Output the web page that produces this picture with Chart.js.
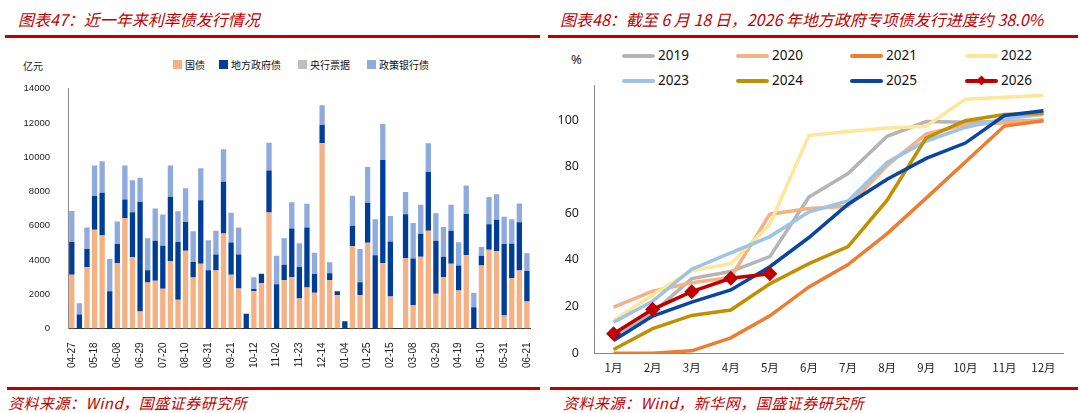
<!DOCTYPE html>
<html>
<head>
<meta charset="utf-8">
<script src="https://cdn.jsdelivr.net/npm/chart.js@4.4.1/dist/chart.umd.min.js"></script>
<style>
  body { margin:0; width:1080px; height:413px; background:#fff; position:relative; overflow:hidden;
         font-family:"Noto Sans CJK SC","Noto Sans",sans-serif; }
  .title { position:absolute; top:7px; font-size:16px; color:#C00000; font-style:italic; white-space:nowrap; }
  .rule  { position:absolute; height:3px; background:#C00000; }
  .src   { position:absolute; top:392px; font-size:15px; color:#C00000; font-style:italic; white-space:nowrap; letter-spacing:0.5px; }
  .unit  { position:absolute; font-size:10px; color:#222; }
  .box   { position:absolute; }
  .lg    { position:absolute; white-space:nowrap; color:#111; }
</style>
</head>
<body>
<div class="title" style="left:18px">图表47：近一年来利率债发行情况</div>
<div class="title" style="left:560px">图表48：截至 6 月 18 日，2026 年地方政府专项债发行进度约 38.0%</div>
<div class="rule" style="left:5px;width:535px;top:35px"></div>
<div class="rule" style="left:548px;width:530px;top:35px"></div>
<div class="rule" style="left:7px;width:533px;top:387px"></div>
<div class="rule" style="left:550px;width:528px;top:387px"></div>
<div class="src" style="left:8px">资料来源：Wind，国盛证券研究所</div>
<div class="src" style="left:563px">资料来源：Wind，新华网，国盛证券研究所</div>
<div class="unit" style="left:23px;top:58px">亿元</div>
<div class="unit" style="left:571px;top:50px;font-size:13px;font-family:'Noto Sans',sans-serif">%</div>

<div id="leftLegend"></div>
<div id="rightLegend"></div>
<canvas id="leftChart" width="545" height="307" style="position:absolute;left:0;top:73px"></canvas>
<canvas id="rightChart" width="535" height="325" style="position:absolute;left:545px;top:58px"></canvas>

<script>
// ─── 左图：近一年来利率债发行（亿元，周度） ───────────────────────────────
const weeks = [
  '04-27','05-04','05-11','05-18','05-25','06-01','06-08','06-15','06-22','06-29',
  '07-06','07-13','07-20','07-27','08-03','08-10','08-17','08-24','08-31','09-07',
  '09-14','09-21','09-28','10-05','10-12','10-19','10-26','11-02','11-09','11-16',
  '11-23','11-30','12-07','12-14','12-21','12-28','01-04','01-11','01-18','01-25',
  '02-01','02-08','02-15','02-22','03-01','03-08','03-15','03-22','03-29','04-05',
  '04-12','04-19','04-26','05-03','05-10','05-17','05-24','05-31','06-07','06-14','06-21'
];
const govBond = [
  3140,0,3570,5760,5430,0,3820,6440,4170,990,
  2680,2790,2310,3940,1670,4540,2970,3780,0,3380,
  5550,3140,2330,0,2170,2640,6770,0,2810,2990,
  1750,2390,2090,10810,2830,1940,0,4810,1940,5010,
  0,3820,1860,0,4110,1360,4190,5710,2020,2990,
  3780,2210,4270,0,3670,4600,4500,760,2950,3380,1570
];
const localBond = [
  1900,810,1070,1980,2500,2170,1110,1090,2620,6390,
  720,2330,2520,3750,3380,1670,910,3710,3400,930,
  3010,1880,1980,850,130,560,2450,2580,910,2850,
  1830,3510,1090,1070,390,230,420,1190,760,2330,
  4270,6020,3220,0,2560,2720,1340,3420,3100,1200,
  1920,1460,2410,1240,580,1490,1850,4170,2000,2820,1790
];
const cbBills = weeks.map(() => 0);
const policyBank = [
  1820,660,1260,1770,1840,1880,1320,1980,1860,1420,
  1860,1880,1830,1820,1790,1980,1790,1860,1750,1400,
  1900,1730,1590,0,690,0,1630,1670,1550,1530,
  1400,1380,1240,1160,640,0,0,1750,1940,2090,
  2100,2100,1490,0,1300,2080,1690,1690,1610,1740,
  1520,1360,1670,850,500,1590,1490,1590,1420,1090,1030
];
const leftYTicks = [0, 2000, 4000, 6000, 8000, 10000, 12000, 14000];

// ─── 右图：地方政府专项债累计发行进度（%） ──────────────────────────────
const months = ['1月','2月','3月','4月','5月','6月','7月','8月','9月','10月','11月','12月'];
const p2019 = [7.5, 17.3, 32, 35, 41.4, 67, 77, 93, 99.3, 99, 99.3, 100];
const p2020 = [19.8, 26.6, 30.2, 32.5, 59.6, 62, 63, 80.5, 94, 98, 98.8, 100];
const p2021 = [0, 0, 1, 6.6, 16, 28.4, 38, 51.3, 66.5, 82, 97.4, 99.7];
const p2022 = [14, 25, 35.5, 38.4, 55.3, 93.3, 95.1, 96.6, 97.3, 108.9, 109.7, 110.6];
const p2023 = [13.3, 22.3, 36, 43, 50, 60.6, 65.3, 81.8, 91, 96.8, 100.5, 102.5];
const p2024 = [1.6, 10.5, 16.2, 18.5, 29.8, 38.4, 45.7, 65.6, 92.3, 99.7, 102.3, 102.9];
const p2025 = [5.4, 15.9, 21.9, 27.1, 37.1, 49.6, 63.9, 74.6, 83.5, 90.1, 101.9, 104];
const p2026 = [8.3, 18.8, 26.4, 32.1, 34.1];
const rightYTicks = [0, 20, 40, 60, 80, 100];

const AXIS_FONT = "'Liberation Sans', Arial, sans-serif";

// ─── 左图 ────────────────────────────────────────────────────────────────
const leftChart = new Chart(document.getElementById('leftChart'), {
  type: 'bar',
  data: {
    labels: weeks,
    datasets: [
      { label: '国债',       data: govBond,    backgroundColor: '#F4B183' },
      { label: '地方政府债', data: localBond,  backgroundColor: '#003D97' },
      { label: '央行票据',   data: cbBills,    backgroundColor: '#BFBFBF' },
      { label: '政策银行债', data: policyBank, backgroundColor: '#8FAADC' },
    ],
  },
  options: {
    responsive: false,
    animation: false,
    layout: { padding: { left: 0, right: 10, top: 4, bottom: 6 } },
    plugins: { legend: { display: false }, tooltip: { enabled: false } },
    datasets: { bar: { categoryPercentage: 1, barPercentage: 0.7 } },
    scales: {
      x: {
        stacked: true,
        grid: { display: false },
        border: { color: '#333', width: 1 },
        ticks: {
          autoSkip: false, minRotation: 90, maxRotation: 90, padding: 6,
          color: '#222', font: { family: AXIS_FONT, size: 10 },
          callback: (v, i) => (i % 3 === 0 ? weeks[i] : ''),
        },
      },
      y: {
        stacked: true,
        min: 0, max: 14000,
        grid: { display: false },
        border: { color: '#888', width: 1 },
        afterBuildTicks: s => { s.ticks = leftYTicks.map(v => ({ value: v })); },
        afterFit: s => { s.width = 68; },
        ticks: {
          padding: 10, color: '#222', font: { family: AXIS_FONT, size: 9.5 },
          callback: v => String(v),
        },
      },
    },
  },
});

// ─── 右图 ────────────────────────────────────────────────────────────────
const lineDs = (label, data, color, order) => ({
  label, data, borderColor: color, backgroundColor: color,
  borderWidth: 3.5, pointRadius: 0, tension: 0, order,
});
const d2026 = lineDs('2026', p2026, '#C00000', 0);
d2026.pointStyle = 'rectRot';
d2026.pointRadius = 7.5;
d2026.pointBorderWidth = 0;

const rightChart = new Chart(document.getElementById('rightChart'), {
  type: 'line',
  data: {
    labels: months,
    datasets: [
      lineDs('2019', p2019, '#B4B4B4', 7),
      lineDs('2020', p2020, '#F4B183', 6),
      lineDs('2021', p2021, '#ED7D31', 5),
      lineDs('2022', p2022, '#FFE699', 4),
      lineDs('2023', p2023, '#9DC3E6', 3),
      lineDs('2024', p2024, '#BF9000', 2),
      lineDs('2025', p2025, '#0A46A0', 1),
      d2026,
    ],
  },
  options: {
    responsive: false,
    animation: false,
    layout: { padding: { left: 0, right: 17, top: 27, bottom: 8 } },
    plugins: { legend: { display: false }, tooltip: { enabled: false } },
    scales: {
      x: {
        offset: true,
        grid: { display: false },
        border: { color: '#888', width: 1 },
        ticks: { padding: 0, color: '#222', font: { family: "'Noto Sans CJK SC', sans-serif", size: 11.5 } },
      },
      y: {
        min: 0, max: 115,
        grid: { display: false },
        border: { color: '#888', width: 1 },
        afterBuildTicks: s => { s.ticks = rightYTicks.map(v => ({ value: v })); },
        afterFit: s => { s.width = 49; },
        ticks: { padding: 7, color: '#222', font: { family: "'Noto Sans', sans-serif", size: 12.5 } },
      },
    },
  },
});

// ─── 图例（HTML，按数据集生成） ────────────────────────────────────────────
function buildLegends() {
  const leftPos = [173, 219, 298, 367];
  const lw = document.getElementById('leftLegend');
  leftChart.data.datasets.forEach((ds, i) => {
    lw.insertAdjacentHTML('beforeend',
      `<div class="box" style="left:${leftPos[i]}px;top:60px;width:9px;height:9px;background:${ds.backgroundColor}"></div>` +
      `<div class="lg" style="left:${leftPos[i] + 12}px;top:57px;font-size:10px">${ds.label}</div>`);
  });

  const colX = [622, 736, 850, 965];
  const rowY = [56, 81];
  const rw = document.getElementById('rightLegend');
  rightChart.data.datasets.forEach((ds, i) => {
    const x = colX[i % 4], y = rowY[Math.floor(i / 4)];
    let html = `<div class="box" style="left:${x}px;top:${y - 2}px;width:33px;height:4px;background:${ds.borderColor};border-radius:2px"></div>`;
    if (ds.pointStyle === 'rectRot') {
      html += `<div class="box" style="left:${x + 13}px;top:${y - 4}px;width:7px;height:7px;background:${ds.borderColor};transform:rotate(45deg)"></div>`;
    }
    html += `<div class="lg" style="left:${x + 36}px;top:${y - 10}px;font-size:13.5px;font-family:'Noto Sans',sans-serif">${ds.label}</div>`;
    rw.insertAdjacentHTML('beforeend', html);
  });
}
buildLegends();
</script>
</body>
</html>
